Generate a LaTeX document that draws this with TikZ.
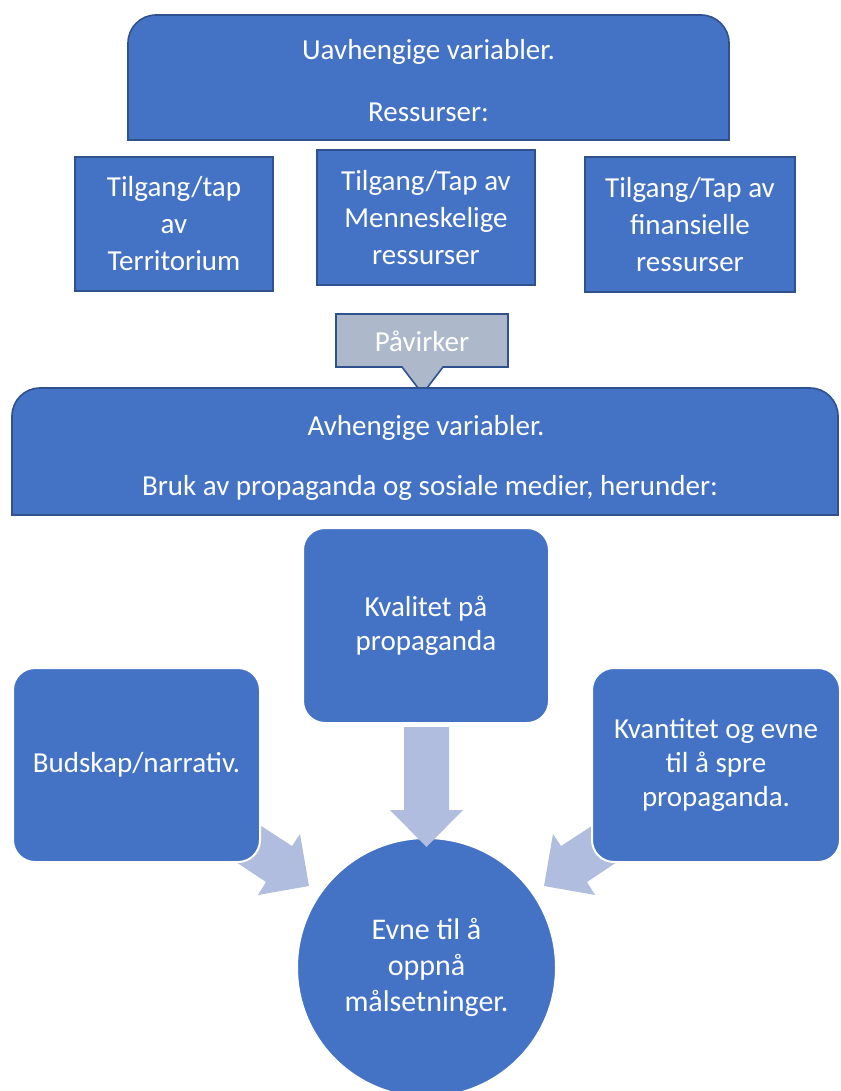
\documentclass[tikz,border=0pt]{standalone}
\usepackage{fontspec}
\setmainfont{Carlito}
\definecolor{mainblue}{HTML}{4472C4}
\definecolor{edgeblue}{HTML}{2F528F}
\definecolor{calloutgray}{HTML}{ADB9CA}
\definecolor{arrowblue}{RGB}{176,189,222}
\begin{document}
\begin{tikzpicture}[x=1pt,y=-1pt,
  txt/.style={text=white,font=\fontsize{29}{37}\selectfont,align=center,inner sep=0pt},
  framed/.style={fill=mainblue,draw=edgeblue,line width=1.6pt},
  resbox/.style={framed,txt,rectangle},
  softbox/.style={fill=mainblue,draw=white,line width=2pt,rounded corners=22pt,rectangle,
    text=white,font=\fontsize{29}{34}\selectfont,align=center,inner sep=0pt},
  blockarrow/.style={fill=arrowblue,draw=none}]
\useasboundingbox (0,0) rectangle (840,1091);

% top box (independent variables)
\draw[framed] (128,140) -- (128,43) arc[start angle=180,end angle=270,radius=28]
  -- (701,15) arc[start angle=270,end angle=360,radius=28] -- (729,140) -- cycle;
\node[txt] (uavh) at (428.5,52) {Uavhengige variabler.};
\node[txt] (ress) at (428.5,112) {Ressurser:};

% resource boxes
\node[resbox,minimum width=198pt,minimum height=134pt] (terr) at (174,224) {Tilgang/tap\\av\\Territorium};
\node[resbox,minimum width=218pt,minimum height=135pt] (menn) at (426,217.5) {Tilgang/Tap av\\Menneskelige\\ressurser};
\node[resbox,minimum width=210pt,minimum height=135pt] (fin) at (690,224.5) {Tilgang/Tap av\\finansielle\\ressurser};

% dependent variables box
\draw[framed] (12,515) -- (12,416) arc[start angle=180,end angle=270,radius=28]
  -- (810,388) arc[start angle=270,end angle=360,radius=28] -- (838,515) -- cycle;
\node[txt] (avh) at (426,428) {Avhengige variabler.};
\node[txt] (bruk) at (430,488) {Bruk av propaganda og sosiale medier, herunder:};

% callout
\draw[fill=calloutgray,draw=edgeblue,line width=1.6pt] (336,314) -- (508,314) -- (508,367)
  -- (443,367) -- (427,388) -- (418,388) -- (402,367) -- (336,367) -- cycle;
\node[txt] (pav) at (422,341) {Påvirker};

% diagonal block arrows (tails hidden behind boxes)
\fill[blockarrow] (229,805) -- (292,846) -- (300,834) -- (309,886) -- (258,895) -- (266,882) -- (233,860) -- cycle;
\fill[blockarrow] (624,805) -- (561,846) -- (553,834) -- (544,886) -- (595,895) -- (587,882) -- (620,860) -- cycle;

% lower boxes
\node[softbox,minimum width=246pt,minimum height=195pt] (kval) at (426,625.5) {Kvalitet på\\propaganda};
\node[softbox,minimum width=247pt,minimum height=194pt] (buds) at (136.5,765) {Budskap/narrativ.};
\node[softbox,minimum width=248pt,minimum height=194pt] (kvan) at (716,765) {Kvantitet og evne\\til å spre\\propaganda.};

% goal circle
\node[circle,fill=mainblue,draw=white,line width=2pt,minimum size=259pt,
  text=white,font=\fontsize{30}{36}\selectfont,align=center,inner sep=0pt] (evne) at (426.5,967.5) {Evne til å\\oppnå\\målsetninger.};

% down block arrow
\fill[blockarrow] (404,727) -- (449,727) -- (449,810) -- (463,810) -- (426.5,847) -- (390,810) -- (404,810) -- cycle;
\end{tikzpicture}
\end{document}
